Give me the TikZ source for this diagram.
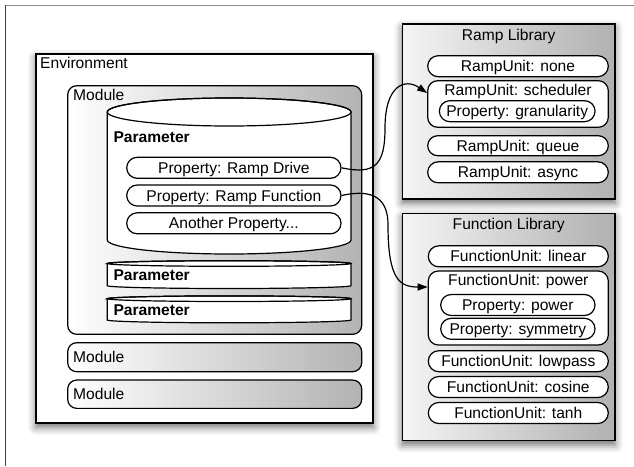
\documentclass[tikz,border=0pt]{standalone}
\usepackage{fontspec}
\setmainfont{Liberation Sans}
\usetikzlibrary{arrows.meta,shapes.misc,shadows.blur}

\tikzset{
  every node/.style={font=\fontsize{15.6}{18}\selectfont},
  lbl/.style={anchor=west, inner sep=0pt, text height=11.2pt, text depth=0pt},
  ttl/.style={inner sep=0pt, text height=11.2pt, text depth=0pt},
  pill/.style={draw, rounded rectangle, fill=white, line width=1.2pt, inner sep=0pt,
    minimum height=21pt, text height=11.2pt, text depth=0pt},
  grp/.style={draw, rectangle, rounded corners=10pt, fill=white, line width=1.2pt, inner sep=0pt},
  soft/.style={blur shadow={shadow xshift=0pt, shadow yshift=-4pt, shadow blur radius=8pt, shadow opacity=60}},
  envbox/.style={draw, fill=white, line width=1.2pt, inner sep=0pt, soft},
  libbox/.style={draw, line width=1.2pt, inner sep=0pt, left color=gray!8, right color=gray!62, soft},
  modbox/.style={draw, rounded corners=9pt, line width=1.2pt, inner sep=0pt, left color=white, right color=gray!60},
  cyl/.style={draw, fill=white, line width=1.2pt},
  conn/.style={-{Triangle[length=10pt,width=7pt]}, line width=1.2pt},
}

\begin{document}
\begin{tikzpicture}[x=1pt, y=-1pt]
  \useasboundingbox (0,0) rectangle (634,466);
  \draw[black!45, line width=1pt] (5,5) -- (634,5);
  \draw[black!75, line width=1pt] (5,5) -- (5,466);

  % environment
  \node[envbox, minimum width=337pt, minimum height=369pt] (env) at (204.5,238.5) {};
  \node[lbl] (envtitle) at (40,63) {Environment};

  \node[modbox, minimum width=294pt, minimum height=248.6pt] (mod1) at (214.7,210) {};
  \node[lbl] (mod1title) at (73,95) {Module};
  \node[modbox, minimum width=294pt, minimum height=29pt] (mod2) at (214.7,357.2) {};
  \node[lbl] (mod2title) at (73,357) {Module};
  \node[modbox, minimum width=294pt, minimum height=28.3pt] (mod3) at (214.7,394.2) {};
  \node[lbl] (mod3title) at (73,394) {Module};

  % parameters
  \path[cyl] (107.3,112) -- (107.3,240) arc[start angle=180, end angle=0, x radius=121.85, y radius=14]
    -- (351,112) arc[start angle=0, end angle=-180, x radius=121.85, y radius=14] -- cycle;
  \draw[line width=1.2pt] (229.15,112) ellipse [x radius=121.85, y radius=14];
  \node[lbl] (par1) at (113.3,136.7) {\bfseries Parameter};

  \path[cyl] (107.3,263.5) -- (107.3,285.7) arc[start angle=180, end angle=0, x radius=121.85, y radius=2.8]
    -- (351,263.5) arc[start angle=0, end angle=-180, x radius=121.85, y radius=2.8] -- cycle;
  \draw[line width=1.2pt] (229.15,263.5) ellipse [x radius=121.85, y radius=2.8];
  \node[lbl] (par2) at (113.3,275) {\bfseries Parameter};

  \path[cyl] (107.3,298.7) -- (107.3,320) arc[start angle=180, end angle=0, x radius=121.85, y radius=2.8]
    -- (351,298.7) arc[start angle=0, end angle=-180, x radius=121.85, y radius=2.8] -- cycle;
  \draw[line width=1.2pt] (229.15,298.7) ellipse [x radius=121.85, y radius=2.8];
  \node[lbl] (par3) at (113.3,310) {\bfseries Parameter};

  \node[pill, minimum width=214.3pt] (drive) at (233.85,167.8) {Property: Ramp Drive};
  \node[pill, minimum width=214.3pt] (func) at (233.85,195.5) {Property: Ramp Function};
  \node[pill, minimum width=214.3pt] (another) at (233.85,223.3) {Another Property...};

  % ramp library
  \node[libbox, minimum width=212.7pt, minimum height=175pt] (ramplib) at (508.65,111.5) {};
  \node[ttl] (ramptitle) at (508.65,35) {Ramp Library};
  \node[pill, minimum width=180.6pt] (none) at (518,66.2) {RampUnit: none};
  \node[grp, minimum width=180.6pt, minimum height=46.6pt] (sched) at (518,104) {};
  \node[ttl] (schedtitle) at (518,90) {RampUnit: scheduler};
  \node[pill, minimum width=155.7pt] (gran) at (517.2,111.2) {Property: granularity};
  \node[pill, minimum width=180.6pt, minimum height=20pt] (queue) at (518,145.7) {RampUnit: queue};
  \node[pill, minimum width=180.6pt] (async) at (518,172.3) {RampUnit: async};

  % function library
  \node[libbox, minimum width=212.7pt, minimum height=227.4pt] (funclib) at (508.65,327) {};
  \node[ttl] (functitle) at (508.65,224) {Function Library};
  \node[pill, minimum width=180pt] (linear) at (518.3,256.3) {FunctionUnit: linear};
  \node[grp, minimum width=180pt, minimum height=74pt] (fpow) at (518.3,308) {};
  \node[ttl] (fpowtitle) at (518.3,280) {FunctionUnit: power};
  \node[pill, minimum width=154.3pt] (ppow) at (517.85,305) {Property: power};
  \node[pill, minimum width=154.3pt] (psym) at (517.85,328.8) {Property: symmetry};
  \node[pill, minimum width=180pt] (lowpass) at (518.3,361.2) {FunctionUnit: lowpass};
  \node[pill, minimum width=180pt] (cosine) at (518.3,387) {FunctionUnit: cosine};
  \node[pill, minimum width=180pt] (tanh) at (518.3,413) {FunctionUnit: tanh};

  \draw[conn] (drive.east) .. controls (375,175) and (385,165) .. (385,128)
    .. controls (385,85) and (405,78) .. ([yshift=11pt]sched.west);
  \draw[conn] (func.east) .. controls (375,188) and (388,200) .. (388,225)
    .. controls (388,280) and (400,287) .. ([yshift=21pt]fpow.west);
\end{tikzpicture}
\end{document}
